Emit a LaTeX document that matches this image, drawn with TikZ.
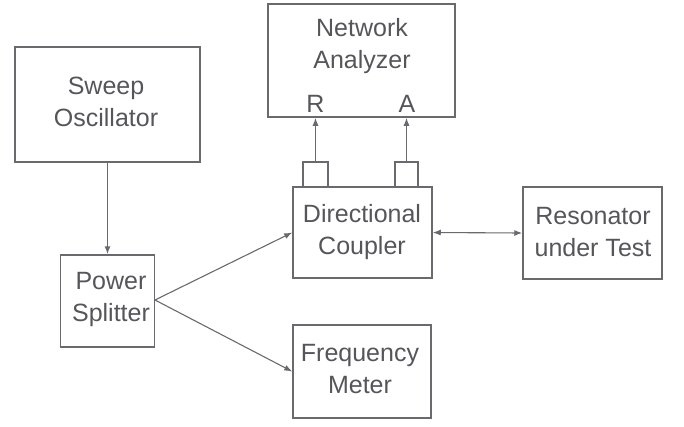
\documentclass[tikz,border=0pt]{standalone}
\usepackage{fontspec}
\setmainfont{Liberation Sans}
\usepackage{xcolor}
\usepackage{tikz}
\usetikzlibrary{arrows.meta}
\definecolor{ink}{HTML}{56565A}
\definecolor{wire}{HTML}{6A6A6E}
\tikzset{
  box/.style={draw=wire, line width=1.5pt, inner sep=0pt},
  txt/.style={text=ink, font=\fontsize{25}{32}\selectfont, align=center},
  sig/.style={draw=wire, line width=1.1pt, -{Latex[length=8pt,width=6pt]}},
}

\begin{document}
\begin{tikzpicture}[x=1pt, y=-1pt]
  \useasboundingbox (0,0) rectangle (684,426);

  % instrument boxes
  \node[box, minimum width=185pt, minimum height=115pt] (sweep) at (107.5,104.5) {};
  \node[box, minimum width=94pt, minimum height=92pt] (splitter) at (107.5,301) {};
  \node[box, minimum width=187pt, minimum height=113pt] (analyzer) at (361.5,60.5) {};
  \node[box, minimum width=139pt, minimum height=91pt] (coupler) at (362.5,232.5) {};
  \node[box, minimum width=139pt, minimum height=92pt] (resonator) at (592.5,233) {};
  \node[box, minimum width=138pt, minimum height=93pt] (meter) at (362,371.5) {};

  % coupler ports
  \node[box, minimum width=25pt, minimum height=25pt] (portR) at (315.5,174.5) {};
  \node[box, minimum width=23pt, minimum height=25pt] (portA) at (406.5,174.5) {};

  % texts
  \node[txt] (sweeptxt) at (106,102) {Sweep\\Oscillator};
  \node[txt] (splittertxt) at (111,299) {Power\\Splitter};
  \node[txt] (analyzertxt) at (362,46) {Network\\Analyzer};
  \node[txt] (couplertxt) at (362,232) {Directional\\Coupler};
  \node[txt] (resonatortxt) at (593,232) {Resonator\\under Test};
  \node[txt] (metertxt) at (360,369) {Frequency\\Meter};
  \node[txt, anchor=south] (labR) at (315.5,116) {R};
  \node[txt, anchor=south] (labA) at (407,116) {A};

  % signal paths
  \coordinate (split) at (155,300);
  \draw[sig] (sweep.south) -- (splitter.north);
  \draw[sig] (split) -- (coupler.west);
  \draw[sig] (split) -- (meter.west);
  \draw[sig] (portR.north) -- (portR.north |- analyzer.south);
  \draw[sig] (portA.north) -- (portA.north |- analyzer.south);
  \draw[sig, {Latex[length=8pt,width=6pt]}-{Latex[length=8pt,width=6pt]}] (coupler.east) -- (resonator.west);
\end{tikzpicture}
\end{document}
